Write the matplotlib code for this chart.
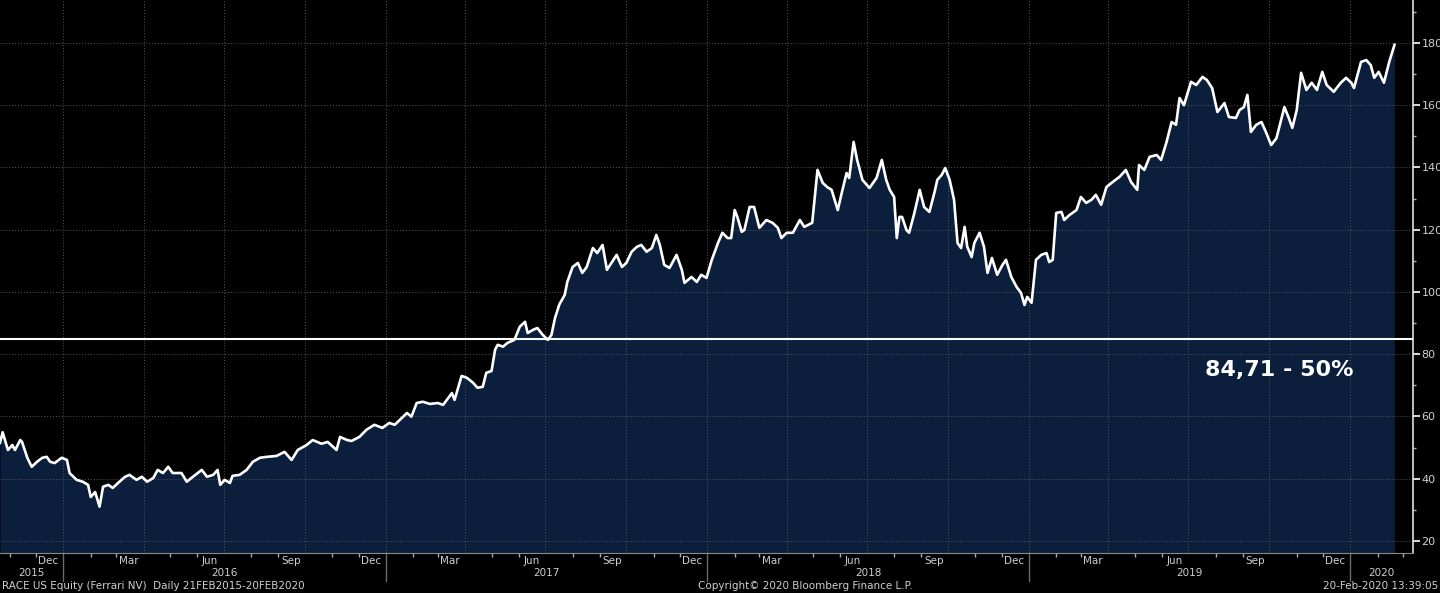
import pandas as pd
import numpy as np
import matplotlib
matplotlib.use('Agg')
import matplotlib.pyplot as plt
import matplotlib.transforms as mtransforms

# RACE US Equity price
dates = [
    '2015-10-21', '2015-10-24', '2015-10-30', '2015-11-04', '2015-11-07', '2015-11-13', '2015-11-15',
    '2015-11-21', '2015-11-26', '2015-12-02', '2015-12-08', '2015-12-13', '2015-12-17', '2015-12-22',
    '2015-12-30', '2016-01-05', '2016-01-08', '2016-01-16', '2016-01-23', '2016-01-29', '2016-02-01',
    '2016-02-06', '2016-02-11', '2016-02-15', '2016-02-21', '2016-02-26', '2016-03-03', '2016-03-11',
    '2016-03-16', '2016-03-24', '2016-03-30', '2016-04-05', '2016-04-12', '2016-04-17', '2016-04-23',
    '2016-04-29', '2016-05-04', '2016-05-14', '2016-05-20', '2016-05-27', '2016-06-06', '2016-06-12',
    '2016-06-19', '2016-06-24', '2016-06-27', '2016-07-02', '2016-07-08', '2016-07-11', '2016-07-19',
    '2016-07-27', '2016-08-03', '2016-08-11', '2016-08-19', '2016-08-30', '2016-09-08', '2016-09-16',
    '2016-09-23', '2016-10-03', '2016-10-10', '2016-10-20', '2016-10-27', '2016-11-06', '2016-11-10',
    '2016-11-18', '2016-11-23', '2016-12-02', '2016-12-10', '2016-12-19', '2016-12-28', '2017-01-05',
    '2017-01-11', '2017-01-17', '2017-01-25', '2017-01-30', '2017-02-05', '2017-02-12', '2017-02-20',
    '2017-03-01', '2017-03-07', '2017-03-17', '2017-03-20', '2017-03-28', '2017-04-03', '2017-04-10',
    '2017-04-15', '2017-04-21', '2017-04-25', '2017-05-01', '2017-05-05', '2017-05-08', '2017-05-14',
    '2017-05-19', '2017-05-27', '2017-06-02', '2017-06-08', '2017-06-11', '2017-06-17', '2017-06-22',
    '2017-06-28', '2017-07-04', '2017-07-08', '2017-07-12', '2017-07-17', '2017-07-23', '2017-07-26',
    '2017-08-01', '2017-08-07', '2017-08-12', '2017-08-17', '2017-08-24', '2017-08-29', '2017-09-04',
    '2017-09-09', '2017-09-14', '2017-09-20', '2017-09-26', '2017-10-01', '2017-10-07', '2017-10-13',
    '2017-10-18', '2017-10-24', '2017-10-30', '2017-11-04', '2017-11-08', '2017-11-13', '2017-11-19',
    '2017-11-27', '2017-12-03', '2017-12-06', '2017-12-14', '2017-12-20', '2017-12-25', '2017-12-31',
    '2018-01-06', '2018-01-13', '2018-01-18', '2018-01-24', '2018-01-28', '2018-02-01', '2018-02-04',
    '2018-02-09', '2018-02-12', '2018-02-18', '2018-02-23', '2018-03-01', '2018-03-09', '2018-03-16',
    '2018-03-22', '2018-03-26', '2018-04-01', '2018-04-08', '2018-04-16', '2018-04-21', '2018-04-30',
    '2018-05-06', '2018-05-12', '2018-05-17', '2018-05-22', '2018-05-29', '2018-06-02', '2018-06-08',
    '2018-06-11', '2018-06-16', '2018-06-20', '2018-06-26', '2018-07-04', '2018-07-12', '2018-07-18',
    '2018-07-23', '2018-07-27', '2018-08-01', '2018-08-04', '2018-08-07', '2018-08-10', '2018-08-15',
    '2018-08-18', '2018-08-24', '2018-08-30', '2018-09-04', '2018-09-10', '2018-09-16', '2018-09-19',
    '2018-09-24', '2018-09-28', '2018-10-03', '2018-10-08', '2018-10-12', '2018-10-16', '2018-10-20',
    '2018-10-23', '2018-10-28', '2018-10-31', '2018-11-06', '2018-11-11', '2018-11-15', '2018-11-20',
    '2018-11-26', '2018-12-02', '2018-12-06', '2018-12-12', '2018-12-18', '2018-12-23', '2018-12-27',
    '2018-12-30', '2019-01-04', '2019-01-09', '2019-01-15', '2019-01-21', '2019-01-24', '2019-01-28',
    '2019-02-01', '2019-02-07', '2019-02-10', '2019-02-16', '2019-02-24', '2019-03-01', '2019-03-07',
    '2019-03-13', '2019-03-18', '2019-03-24', '2019-03-30', '2019-04-06', '2019-04-14', '2019-04-21',
    '2019-04-27', '2019-05-04', '2019-05-06', '2019-05-12', '2019-05-18', '2019-05-26', '2019-05-31',
    '2019-06-06', '2019-06-12', '2019-06-17', '2019-06-21', '2019-06-26', '2019-07-04', '2019-07-10',
    '2019-07-17', '2019-07-22', '2019-07-28', '2019-08-03', '2019-08-11', '2019-08-16', '2019-08-24',
    '2019-08-28', '2019-09-02', '2019-09-06', '2019-09-10', '2019-09-16', '2019-09-22', '2019-09-27',
    '2019-10-03', '2019-10-09', '2019-10-18', '2019-10-23', '2019-10-27', '2019-11-01', '2019-11-06',
    '2019-11-12', '2019-11-18', '2019-11-24', '2019-11-30', '2019-12-05', '2019-12-13', '2019-12-21',
    '2019-12-27', '2020-01-02', '2020-01-05', '2020-01-13', '2020-01-19', '2020-01-24', '2020-01-28',
    '2020-02-02', '2020-02-08', '2020-02-14', '2020-02-20',
]
prices = [
    51.5, 54.9, 49.2, 50.8, 49.2, 52.4, 51.8,
    46.7, 43.8, 45.4, 46.7, 47.0, 45.4, 45.0,
    46.7, 46.0, 41.8, 39.6, 39.0, 38.0, 34.1,
    35.7, 31.0, 37.4, 38.0, 37.0, 38.6, 40.6,
    41.2, 39.6, 40.6, 39.0, 40.2, 42.8, 41.8,
    43.8, 41.8, 41.8, 39.0, 40.6, 42.8, 40.6,
    41.2, 42.8, 38.0, 39.6, 38.6, 40.9, 41.2,
    42.8, 45.4, 46.7, 47.0, 47.3, 48.6, 46.0,
    49.2, 50.8, 52.4, 51.2, 51.8, 49.2, 53.4,
    52.4, 52.1, 53.4, 55.7, 57.3, 56.3, 57.9,
    57.3, 58.9, 61.1, 59.9, 64.3, 64.7, 64.0,
    64.3, 63.7, 67.5, 65.3, 73.0, 72.4, 70.8,
    69.2, 69.5, 74.0, 74.6, 81.4, 83.0, 82.4,
    83.6, 84.6, 88.8, 90.4, 86.8, 87.8, 88.4,
    86.2, 84.6, 86.2, 91.6, 96.0, 99.0, 103.2,
    108.0, 109.3, 106.1, 108.0, 114.1, 112.5, 115.1,
    107.1, 109.3, 111.9, 108.0, 109.3, 112.9, 114.5,
    115.1, 112.9, 114.1, 118.3, 115.1, 108.7, 107.7,
    111.9, 107.1, 102.9, 104.8, 103.2, 105.5, 104.5,
    110.3, 115.7, 119.0, 117.3, 117.3, 126.3, 124.1,
    119.3, 119.9, 127.3, 127.3, 120.6, 123.1, 122.2,
    120.6, 117.3, 119.0, 119.0, 123.1, 120.9, 122.2,
    139.2, 135.0, 133.7, 132.8, 126.3, 131.2, 138.2,
    136.6, 148.2, 142.4, 136.0, 133.4, 136.6, 142.4,
    136.0, 132.8, 130.5, 117.3, 124.1, 124.1, 119.9,
    119.0, 125.4, 132.8, 127.3, 125.7, 132.2, 136.0,
    137.6, 139.8, 136.0, 129.6, 115.7, 114.1, 120.9,
    114.5, 111.2, 115.7, 119.0, 114.5, 106.1, 110.9,
    105.5, 108.7, 110.3, 104.8, 101.6, 99.7, 95.8,
    98.4, 96.5, 110.3, 111.9, 112.5, 109.6, 110.3,
    125.4, 125.7, 123.1, 124.7, 126.3, 130.5, 128.6,
    129.6, 131.2, 128.0, 133.7, 135.3, 137.0, 139.2,
    135.3, 132.8, 140.8, 139.2, 143.4, 144.0, 142.4,
    147.9, 154.6, 153.7, 162.3, 160.0, 167.5, 166.5,
    169.1, 168.1, 165.5, 157.8, 160.7, 156.2, 155.9,
    158.4, 159.4, 163.3, 151.4, 153.7, 154.6, 151.4,
    147.2, 149.4, 159.4, 155.9, 152.7, 158.4, 170.4,
    164.9, 167.2, 164.9, 170.7, 166.5, 164.3, 167.2,
    168.8, 167.2, 165.5, 173.9, 174.5, 172.9, 168.8,
    170.7, 167.2, 173.9, 179.4,
]

level = 84.71
level_label = '84,71 - 50%'
y_ticks = [20, 40, 60, 80, 100, 120, 140, 160, 180]
month_names = {3: 'Mar', 6: 'Jun', 9: 'Sep', 12: 'Dec'}
years = [2015, 2016, 2017, 2018, 2019, 2020]
footer_left = 'RACE US Equity (Ferrari NV)  Daily 21FEB2015-20FEB2020'
footer_mid = 'Copyright\u00a9 2020 Bloomberg Finance L.P.'
footer_right = '20-Feb-2020 13:39:05'

x = pd.to_datetime(dates)
xmin = pd.Timestamp('2015-10-21')
xmax = pd.Timestamp('2020-03-12')

navy = '#0b1f3d'
grid_col = '#565656'
txt_col = '#cfcfcf'

fig = plt.figure(figsize=(14.4, 5.93), dpi=100, facecolor='black')
ax = fig.add_axes([0, 40 / 593, 1413 / 1440, 553 / 593])
ax.set_facecolor('black')

ax.fill_between(x, prices, 0, color=navy, lw=0, zorder=1)
# soft dark edge between last print and the axis
grad = np.linspace(0, 1, 50).reshape(1, -1)
ax.imshow(grad, extent=[x[-1] - pd.Timedelta(days=4), xmax, 0, prices[-1]],
          cmap=matplotlib.colors.LinearSegmentedColormap.from_list('fade', [(0, 0, 0, 0), (0, 0, 0, 0.9)]),
          aspect='auto', zorder=1.5, interpolation='bilinear')
ax.plot(x, prices, color='white', lw=1.9, zorder=3, solid_joinstyle='round')
ax.axhline(level, color='white', lw=1.5, zorder=4)
ax.text(pd.Timestamp('2019-10-12'), 74.8, level_label, color='white', fontsize=16,
        fontweight='bold', family='DejaVu Sans', ha='center', va='center', zorder=5)

ax.set_xlim(xmin, xmax)
ax.set_ylim(16.1, 193.8)

# y axis on the right
ax.yaxis.tick_right()
ax.set_yticks(y_ticks)
ax.set_yticks([v + 10 for v in y_ticks], minor=True)
ax.tick_params(axis='y', which='major', direction='out', length=5, width=1.2,
               colors='white', labelcolor=txt_col, labelsize=8, pad=1)
ax.tick_params(axis='y', which='minor', direction='out', length=2, width=1, colors='#aaaaaa')

# x axis: quarter grid, monthly ticks
quarters = pd.date_range('2016-01-01', '2020-01-01', freq='QS')
months = pd.date_range('2015-11-01', '2020-03-01', freq='MS')
ax.set_xticks(quarters)
ax.set_xticklabels([])
ax.set_xticks(months, minor=True)
ax.tick_params(axis='x', which='major', length=0)
ax.tick_params(axis='x', which='minor', direction='out', length=3, width=1, colors='#aaaaaa')

ax.grid(True, which='major', axis='both', color=grid_col, ls=(0, (1, 2)), lw=0.7, zorder=2)

for s in ['top', 'left']:
    ax.spines[s].set_visible(False)
ax.spines['right'].set_color('#e0e0e0')
ax.spines['right'].set_linewidth(1.2)
ax.spines['bottom'].set_color('#8a8a8a')
ax.spines['bottom'].set_linewidth(0.8)

trans = mtransforms.blended_transform_factory(ax.transData, ax.transAxes)
for m in pd.date_range('2015-11-01', '2020-02-01', freq='MS'):
    if m.month in month_names:
        mid = m + pd.Timedelta(days=14)
        ax.text(mid, -0.006, month_names[m.month], transform=trans, ha='center', va='top',
                color=txt_col, fontsize=7.5)

for yr in years:
    start = max(pd.Timestamp(f'{yr}-01-01'), xmin)
    end = min(pd.Timestamp(f'{yr + 1}-01-01'), xmax)
    mid = start + (end - start) / 2
    ax.text(mid, -0.028, str(yr), transform=trans, ha='center', va='top',
            color=txt_col, fontsize=7.5)
    if yr > 2015:
        ax.plot([pd.Timestamp(f'{yr}-01-01')] * 2, [0, -0.05], transform=trans,
                color='#6a6a6a', lw=1, clip_on=False)

fig.text(2 / 1440, 7 / 593, footer_left, color=txt_col, fontsize=7.5, ha='left', va='center')
fig.text(805 / 1440, 7 / 593, footer_mid, color=txt_col, fontsize=7.5, ha='center', va='center')
fig.text(1438 / 1440, 7 / 593, footer_right, color=txt_col, fontsize=7.5, ha='right', va='center')

fig.savefig('out.png', dpi=100, facecolor='black')
